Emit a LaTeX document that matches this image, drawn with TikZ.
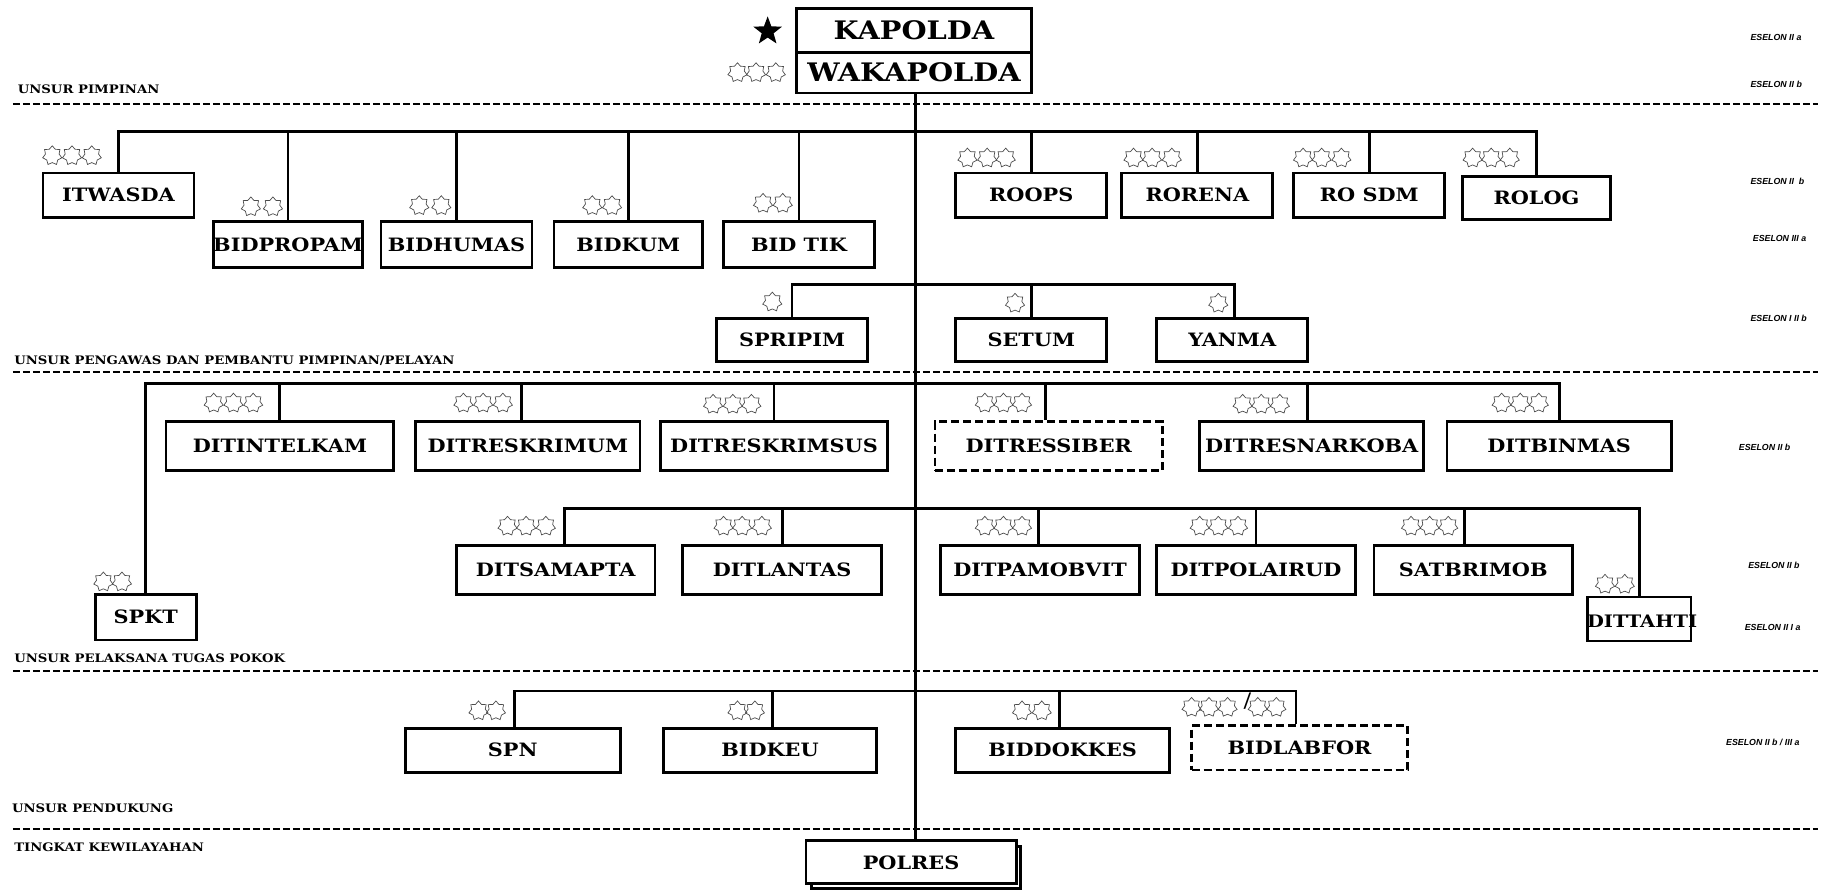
\documentclass[tikz,border=0pt]{standalone}
\usepackage{fontspec}
\usetikzlibrary{shapes.geometric}
\setmainfont{DejaVu Serif}[FakeStretch=1.13]
\newfontfamily\eselonfont{Liberation Sans}
\newlength{\uu}\setlength{\uu}{0.58068pt}
\tikzset{
  line/.style={line width=1.4pt},
  boxstyle/.style={draw,line width=1.4pt,fill=white,inner sep=0pt,font=\fontsize{9.2}{11}\selectfont\bfseries,text=black},
  dashbox/.style={boxstyle,dash pattern=on 4pt off 2pt},
  topbox/.style={boxstyle,font=\fontsize{12.75}{15}\selectfont\bfseries},
  sep/.style={line width=0.95pt,dash pattern=on 3.6pt off 1.4pt},
  sec/.style={anchor=west,inner sep=0pt,font=\fontsize{5.85}{7}\selectfont\bfseries},
  esel/.style={anchor=west,inner sep=0pt,font=\fontsize{4.4}{5}\eselonfont\itshape\bfseries},
  pang/.style={star,star points=7,star point ratio=1.4,minimum size=9.8pt,inner sep=0pt,draw=black!70,line width=0.35pt},
}
\newcommand{\bx}[6][boxstyle]{%
  \pgfmathsetmacro{\bw}{(#5-#3)*0.58068}\pgfmathsetmacro{\bh}{(#6-#4)*0.58068}%
  \node[#1,minimum width=\bw pt,minimum height=\bh pt] (#2) at ({(#3+#5)/2},{(#4+#6)/2}) {\phantom{}};}
\newcommand{\bxt}[7][boxstyle]{%
  \pgfmathsetmacro{\bw}{(#5-#3)*0.58068}\pgfmathsetmacro{\bh}{(#6-#4)*0.58068}%
  \node[#1,minimum width=\bw pt,minimum height=\bh pt] (#2) at ({(#3+#5)/2},{(#4+#6)/2}) {#7};}
\newcommand{\stars}[2]{\foreach \sx in {#2} {\node[pang] (st-\sx-#1) at (\sx,#1) {};}}
\begin{document}
\begin{tikzpicture}[x=0.58068pt,y=-0.58068pt]
\useasboundingbox (0,0) rectangle (1568,766.36);
% separators
\coordinate (s1a) at (11,89.5); \coordinate (s1b) at (1565,89.5);
\coordinate (s2a) at (11,320.5); \coordinate (s2b) at (1565,320.5);
\coordinate (s3a) at (11,578); \coordinate (s3b) at (1565,578);
\coordinate (s4a) at (11,713.5); \coordinate (s4b) at (1565,713.5);
\draw[sep] (s1a)--(s1b); \draw[sep] (s2a)--(s2b); \draw[sep] (s3a)--(s3b); \draw[sep] (s4a)--(s4b);
% trunk coordinates
\coordinate (b1) at (788,113); \coordinate (b2) at (788,245); \coordinate (b3) at (788,330);
\coordinate (b4) at (788,438); \coordinate (b5) at (788,595);
% boxes
\bxt[topbox]{kapolda}{686}{7}{888}{45}{KAPOLDA}
\bxt[topbox]{waka}{686}{45}{888}{80}{WAKAPOLDA}
\bxt{itwasda}{37}{149}{167}{187}{ITWASDA}
\bxt{bidpropam}{184}{191}{312}{230}{BIDPROPAM}
\bxt{bidhumas}{328}{191}{458}{230}{BIDHUMAS}
\bxt{bidkum}{477}{191}{605}{230}{BIDKUM}
\bxt{bidtik}{623}{191}{753}{230}{BID TIK}
\bxt{roops}{823}{149}{953}{187}{ROOPS}
\bxt{rorena}{966}{149}{1096}{187}{RORENA}
\bxt{rosdm}{1114}{149}{1244}{187}{RO SDM}
\bxt{rolog}{1259}{152}{1387}{189}{ROLOG}
\bxt{spripim}{617}{274}{747}{311}{SPRIPIM}
\bxt{setum}{823}{274}{953}{311}{SETUM}
\bxt{yanma}{996}{274}{1126}{311}{YANMA}
\bxt{ditintelkam}{143}{363}{339}{405}{DITINTELKAM}
\bxt{ditreskrimum}{358}{363}{551}{405}{DITRESKRIMUM}
\bxt{ditreskrimsus}{569}{363}{764}{405}{DITRESKRIMSUS}
\bxt[dashbox]{ditressiber}{805}{363}{1001}{405}{DITRESSIBER}
\bxt{ditresnarkoba}{1033}{363}{1226}{405}{DITRESNARKOBA}
\bxt{ditbinmas}{1246}{363}{1439}{405}{DITBINMAS}
\bxt{ditsamapta}{393}{470}{564}{512}{DITSAMAPTA}
\bxt{ditlantas}{588}{470}{759}{512}{DITLANTAS}
\bxt{ditpamobvit}{810}{470}{981}{512}{DITPAMOBVIT}
\bxt{ditpolairud}{996}{470}{1167}{512}{DITPOLAIRUD}
\bxt{satbrimob}{1183}{470}{1354}{512}{SATBRIMOB}
\bxt{spkt}{82}{512}{169}{551}{SPKT}
\bxt{spn}{349}{627}{534}{665}{SPN}
\bxt{bidkeu}{571}{627}{755}{665}{BIDKEU}
\bxt{biddokkes}{823}{627}{1007}{665}{BIDDOKKES}
\bxt[dashbox]{bidlabfor}{1026}{625}{1212}{663}{BIDLABFOR}
\bx{polresb}{699}{729}{879}{765}
\bxt{polres}{694}{724}{875}{761}{POLRES}
\bx{dittahti}{1367}{514}{1456}{552}
\node[font=\fontsize{8.6}{10}\selectfont\bfseries,inner sep=0pt] (dittahtilab) at (1414,535) {DITTAHTI};
% connectors
\begin{scope}[line]
\coordinate (trtop) at ([xshift=\uu]waka.south);
\draw (trtop) -- (trtop |- polres.north);
\draw (itwasda.north) |- (b1);
\draw (bidpropam.north) |- (b1);
\draw (bidhumas.north) |- (b1);
\draw (bidkum.north) |- (b1);
\draw (bidtik.north) |- (b1);
\draw (roops.north) |- (b1);
\draw (rorena.north) |- (b1);
\draw (rosdm.north) |- (b1);
\draw (rolog.north) |- (b1);
\draw (spripim.north) |- (b2);
\draw (setum.north) |- (b2);
\draw ([xshift=2*\uu]yanma.north) |- (b2);
\draw (spkt.north) |- (b3);
\draw (ditintelkam.north) |- (b3);
\draw ([xshift=-5.5*\uu]ditreskrimum.north) |- (b3);
\draw (ditreskrimsus.north) |- (b3);
\draw ([xshift=-3*\uu]ditressiber.north) |- (b3);
\draw ([xshift=-3.5*\uu]ditresnarkoba.north) |- (b3);
\draw (ditbinmas.north) |- (b3);
\draw ([xshift=7.5*\uu]ditsamapta.north) |- (b4);
\draw (ditlantas.north) |- (b4);
\draw ([xshift=-1.5*\uu]ditpamobvit.north) |- (b4);
\draw (ditpolairud.north) |- (b4);
\draw ([xshift=-7.5*\uu]satbrimob.north) |- (b4);
\draw (dittahti.north) |- (b4);
\draw ([xshift=1.5*\uu]spn.north) |- (b5);
\draw ([xshift=2*\uu]bidkeu.north) |- (b5);
\draw ([xshift=-3*\uu]biddokkes.north) |- (b5);
\draw ([xshift=-3*\uu]bidlabfor.north) |- (b5);
\end{scope}
% stars
\node[star,star points=5,star point ratio=2.4,minimum size=15pt,inner sep=0pt,fill=black] (kstar) at (661,27) {};
\stars{62.5}{635,651,668}
\stars{134}{45,62,79}
\stars{178}{216,235}
\stars{177}{361,380,510,527}
\stars{175}{657,674}
\stars{136}{833,850,866,976,992,1009,1122,1138,1155,1268,1284,1300}
\stars{260}{665}
\stars{261}{874,1049}
\stars{347}{184,201,218,399,416,433,848,864,880,1293,1309,1325}
\stars{348}{614,631,647,1070,1086,1102}
\stars{453}{437,453,470,623,639,656,848,864,880,1033,1049,1066,1215,1231,1247}
\stars{503}{1382,1399}
\stars{501}{89,105}
\stars{612}{412,427,635,650,880,897}
\stars{609}{1026,1041,1057,1083,1099}
\node[inner sep=0pt,font=\fontsize{10}{12}\selectfont] (slash) at (1074,604) {/};
% section labels
\node[sec] (l1) at (15,76.5) {UNSUR PIMPINAN};
\node[sec] (l2) at (12,310.5) {UNSUR PENGAWAS DAN PEMBANTU PIMPINAN/PELAYAN};
\node[sec] (l3) at (12,566.5) {UNSUR PELAKSANA TUGAS POKOK};
\node[sec] (l4) at (10,696) {UNSUR PENDUKUNG};
\node[sec] (l5) at (12,729.5) {TINGKAT KEWILAYAHAN};
% eselon
\node[esel] (e1) at (1507,32) {ESELON II a};
\node[esel] (e2) at (1507,73) {ESELON II b};
\node[esel] (e3) at (1507,156) {ESELON II\ \ b};
\node[esel] (e4) at (1509,205) {ESELON III a};
\node[esel] (e5) at (1507,274) {ESELON I II b};
\node[esel] (e6) at (1497,385) {ESELON II b};
\node[esel] (e7) at (1505,487) {ESELON II b};
\node[esel] (e8) at (1502,540) {ESELON II I a};
\node[esel] (e9) at (1486,639) {ESELON II b / III a};
\end{tikzpicture}
\end{document}
